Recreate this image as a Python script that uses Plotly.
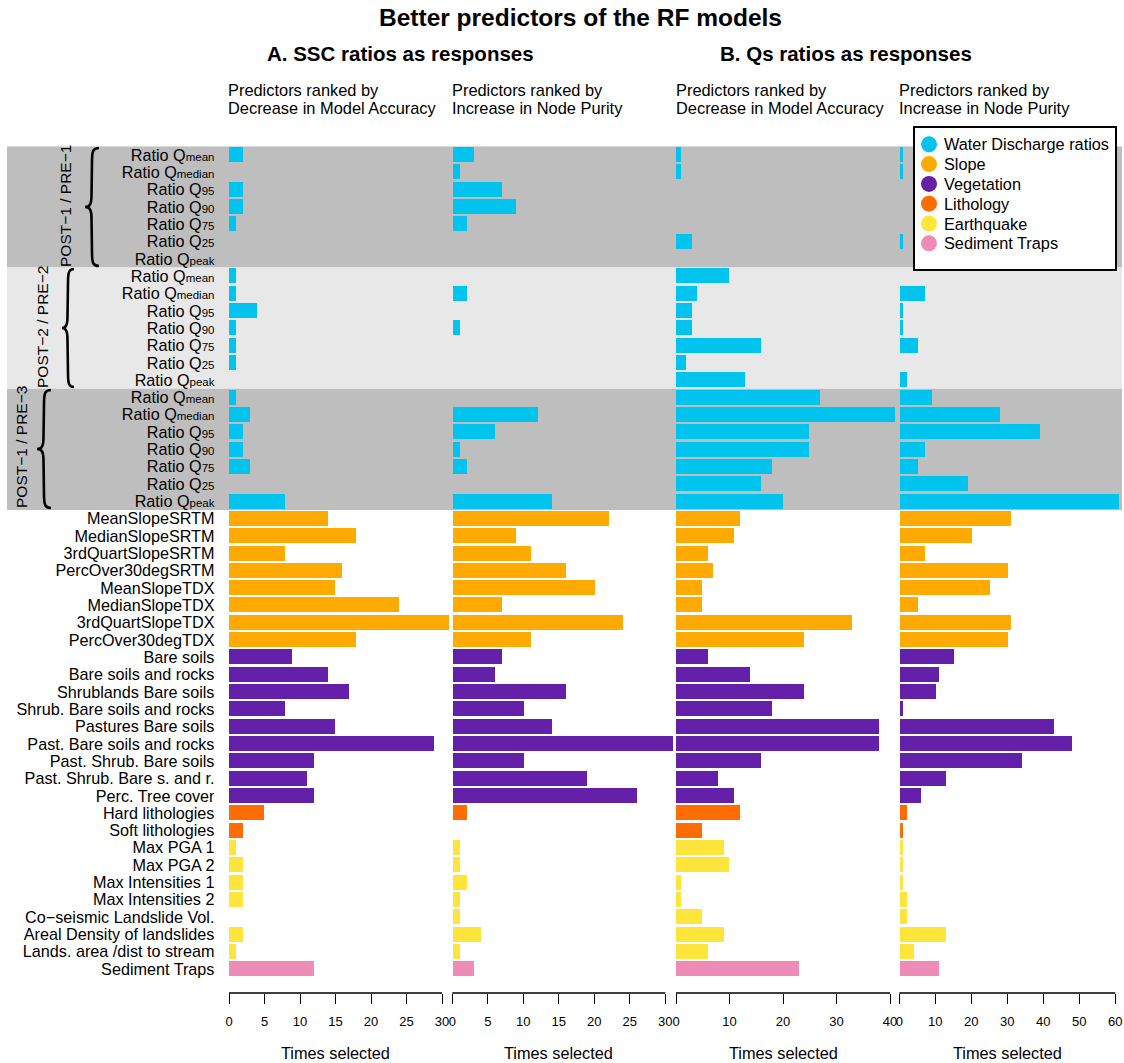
import plotly.graph_objects as go

W, H = 1124, 1063
FONT = "Liberation Sans, Arial, Helvetica, sans-serif"

# ---------------- data ----------------
SUB = "<span style='font-size:11.5px'>{}</span>"
water_labels = ["Ratio Q" + SUB.format("mean"), "Ratio Q" + SUB.format("median"),
                "Ratio Q" + SUB.format("95"), "Ratio Q" + SUB.format("90"),
                "Ratio Q" + SUB.format("75"), "Ratio Q" + SUB.format("25"),
                "Ratio Q" + SUB.format("peak")]
slope_labels = ["MeanSlopeSRTM", "MedianSlopeSRTM", "3rdQuartSlopeSRTM", "PercOver30degSRTM",
                "MeanSlopeTDX", "MedianSlopeTDX", "3rdQuartSlopeTDX", "PercOver30degTDX"]
veg_labels = ["Bare soils", "Bare soils and rocks", "Shrublands Bare soils",
              "Shrub. Bare soils and rocks", "Pastures Bare soils", "Past. Bare soils and rocks",
              "Past. Shrub. Bare soils", "Past. Shrub. Bare s. and r.", "Perc. Tree cover"]
litho_labels = ["Hard lithologies", "Soft lithologies"]
eq_labels = ["Max PGA 1", "Max PGA 2", "Max Intensities 1", "Max Intensities 2",
             "Co\u2212seismic Landslide Vol.", "Areal Density of landslides",
             "Lands. area /dist to stream"]
sed_labels = ["Sediment Traps"]

group_names = ["Water Discharge ratios", "Slope", "Vegetation", "Lithology", "Earthquake",
               "Sediment Traps"]
group_colors = ["#00C4EE", "#FFAA00", "#6420A8", "#FF6D00", "#FDE53B", "#EE8BB7"]
period_names = ["POST\u22121 / PRE\u22121", "POST\u22122 / PRE\u22122", "POST\u22121 / PRE\u22123"]

# Panel 1: SSC ratios, Decrease in Model Accuracy
p1_water = [2, 0, 2, 2, 1, 0, 0,   1, 1, 4, 1, 1, 1, 0,   1, 3, 2, 2, 3, 0, 8]
p1_slope = [14, 18, 8, 16, 15, 24, 31, 18]
p1_veg = [9, 14, 17, 8, 15, 29, 12, 11, 12]
p1_litho = [5, 2]
p1_eq = [1, 2, 2, 2, 0, 2, 1]
p1_sed = [12]

# Panel 2: SSC ratios, Increase in Node Purity
p2_water = [3, 1, 7, 9, 2, 0, 0,   0, 2, 0, 1, 0, 0, 0,   0, 12, 6, 1, 2, 0, 14]
p2_slope = [22, 9, 11, 16, 20, 7, 24, 11]
p2_veg = [7, 6, 16, 10, 14, 31, 10, 19, 26]
p2_litho = [2, 0]
p2_eq = [1, 1, 2, 1, 1, 4, 1]
p2_sed = [3]

# Panel 3: Qs ratios, Decrease in Model Accuracy
p3_water = [1, 1, 0, 0, 0, 3, 0,   10, 4, 3, 3, 16, 2, 13,   27, 41, 25, 25, 18, 16, 20]
p3_slope = [12, 11, 6, 7, 5, 5, 33, 24]
p3_veg = [6, 14, 24, 18, 38, 38, 16, 8, 11]
p3_litho = [12, 5]
p3_eq = [9, 10, 1, 1, 5, 9, 6]
p3_sed = [23]

# Panel 4: Qs ratios, Increase in Node Purity
p4_water = [1, 1, 0, 0, 0, 1, 0,   0, 7, 1, 1, 5, 0, 2,   9, 28, 39, 7, 5, 19, 61]
p4_slope = [31, 20, 7, 30, 25, 5, 31, 30]
p4_veg = [15, 11, 10, 1, 43, 48, 34, 13, 6]
p4_litho = [2, 1]
p4_eq = [1, 1, 1, 2, 2, 13, 4]
p4_sed = [11]

p1_ticks = [0, 5, 10, 15, 20, 25, 30]
p2_ticks = [0, 5, 10, 15, 20, 25, 30]
p3_ticks = [0, 10, 20, 30, 40]
p4_ticks = [0, 10, 20, 30, 40, 50, 60]

header_line1 = "Predictors ranked by"
header_line2 = ["Decrease in Model Accuracy", "Increase in Node Purity",
                "Decrease in Model Accuracy", "Increase in Node Purity"]

# ---------------- geometry helpers ----------------
def px(x):
    return x / W


def py(y):
    return 1 - y / H


ROW0, ROWSTEP = 155.0, 17.32
AX_Y = 993.0
y_top = ROW0 - 0.5 * ROWSTEP
y_range_bottom = (AX_Y - ROW0) / ROWSTEP

# zero pixel, pixels per unit, axis max
panel_geo = [(229.0, 7.1, 30), (452.3, 7.1, 30), (676.0, 5.35, 40), (899.3, 3.6, 60)]

panels = [
    [p1_water, p1_slope, p1_veg, p1_litho, p1_eq, p1_sed],
    [p2_water, p2_slope, p2_veg, p2_litho, p2_eq, p2_sed],
    [p3_water, p3_slope, p3_veg, p3_litho, p3_eq, p3_sed],
    [p4_water, p4_slope, p4_veg, p4_litho, p4_eq, p4_sed],
]
panel_ticks = [p1_ticks, p2_ticks, p3_ticks, p4_ticks]

row_labels = water_labels * 3 + slope_labels + veg_labels + litho_labels + eq_labels + sed_labels
n_rows = len(row_labels)

fig = go.Figure()

for pi, groups in enumerate(panels):
    xname = "x" if pi == 0 else f"x{pi + 1}"
    yname = "y" if pi == 0 else f"y{pi + 1}"
    start = 0
    for gi, vals in enumerate(groups):
        rows = list(range(start, start + len(vals)))
        start += len(vals)
        fig.add_trace(go.Bar(
            x=vals, y=rows, orientation="h", width=0.866,
            marker=dict(color=group_colors[gi], line=dict(width=0)),
            name=group_names[gi], showlegend=False,
            xaxis=xname, yaxis=yname,
        ))

layout = dict(
    width=W, height=H, margin=dict(l=0, r=0, t=0, b=0),
    paper_bgcolor="white", plot_bgcolor="rgba(0,0,0,0)",
    font=dict(family=FONT, color="black"),
    showlegend=False, bargap=0,
)

shapes = []
annotations = []

# background bands for the three ratio periods
band_colors = ["#BEBEBE", "#E8E8E8", "#BEBEBE"]
for k in range(3):
    shapes.append(dict(type="rect", xref="paper", yref="y", x0=px(7), x1=px(1122),
                       y0=7 * k - 0.5, y1=7 * k + 6.5, fillcolor=band_colors[k],
                       line=dict(width=0), layer="below"))

for pi in range(4):
    z, ppu, amax = panel_geo[pi]
    lo = -0.04 * amax
    hi = 1.04 * amax
    dom = [px(z + lo * ppu), min(1.0, px(z + hi * ppu))]
    xkey = "xaxis" if pi == 0 else f"xaxis{pi + 1}"
    ykey = "yaxis" if pi == 0 else f"yaxis{pi + 1}"
    yanchor = "y" if pi == 0 else f"y{pi + 1}"
    xanchor = "x" if pi == 0 else f"x{pi + 1}"
    layout[xkey] = dict(
        domain=dom, range=[lo, hi], anchor=yanchor,
        showgrid=False, zeroline=False, showline=False,
        ticks="outside", ticklen=10, tickwidth=1.3, tickcolor="black",
        tickvals=panel_ticks[pi], ticktext=[str(t) for t in panel_ticks[pi]],
        tickfont=dict(size=13, family=FONT, color="black"), ticklabelstandoff=6,
        fixedrange=True,
    )
    ydict = dict(
        domain=[py(AX_Y), py(y_top)], range=[y_range_bottom, -0.5], anchor=xanchor,
        showgrid=False, zeroline=False, showline=False, fixedrange=True,
    )
    if pi == 0:
        ydict.update(tickmode="array", tickvals=list(range(n_rows)), ticktext=row_labels,
                     ticks="", tickfont=dict(size=16.2, family=FONT, color="black"),
                     ticklabelstandoff=5)
    else:
        ydict.update(showticklabels=False, ticks="")
    layout[ykey] = ydict

    # axis line from 0 to max
    xref = "x" if pi == 0 else f"x{pi + 1}"
    shapes.append(dict(type="line", xref=xref, yref="paper", x0=0, x1=amax,
                       y0=py(AX_Y), y1=py(AX_Y), line=dict(color="black", width=1.3)))
    annotations.append(dict(xref=xref, yref="paper", x=amax / 2, y=py(1053),
                            text="Times selected", showarrow=False,
                            font=dict(size=16.3, family=FONT), xanchor="center", yanchor="middle"))
    # headers
    hx = [228, 452, 676, 899][pi]
    annotations.append(dict(xref="paper", yref="paper", x=px(hx - 2), y=py(90),
                            text=header_line1, showarrow=False, xanchor="left",
                            yanchor="middle", font=dict(size=16.4, family=FONT)))
    annotations.append(dict(xref="paper", yref="paper", x=px(hx - 2), y=py(108),
                            text=header_line2[pi], showarrow=False, xanchor="left",
                            yanchor="middle", font=dict(size=16.4, family=FONT)))

# titles
annotations.append(dict(xref="paper", yref="paper", x=px(580), y=py(18),
                        text="<b>Better predictors of the RF models</b>", showarrow=False,
                        xanchor="center", yanchor="middle", font=dict(size=24.5, family=FONT)))
annotations.append(dict(xref="paper", yref="paper", x=px(400), y=py(53),
                        text="<b>A. SSC ratios as responses</b>", showarrow=False,
                        xanchor="center", yanchor="middle", font=dict(size=20.5, family=FONT)))
annotations.append(dict(xref="paper", yref="paper", x=px(846), y=py(53),
                        text="<b>B. Qs ratios as responses</b>", showarrow=False,
                        xanchor="center", yanchor="middle", font=dict(size=20.5, family=FONT)))


# braces and period labels
def P(x, y):
    return f"{px(x):.5f},{py(y):.5f}"


def brace(xe, xt, yt, yb):
    xb = xt + 0.5 * (xe - xt)
    ym = (yt + yb) / 2
    return (f"M{P(xe, yt)} C{P(xb + 1, yt)} {P(xb, yt + 3)} {P(xb, yt + 14)} "
            f"L{P(xb - 0.5, ym - 12)} C{P(xb - 0.5, ym - 3)} {P(xb - 2, ym)} {P(xt, ym)} "
            f"C{P(xb - 2, ym)} {P(xb - 0.5, ym + 3)} {P(xb - 0.5, ym + 12)} "
            f"L{P(xb, yb - 14)} C{P(xb, yb - 3)} {P(xb + 1, yb)} {P(xe, yb)}")


brace_geo = [(99, 85, 148, 266), (74, 62, 269, 387), (51, 37, 390, 508)]
label_pos = [(66, 206), (42, 327), (21, 447)]
for k in range(3):
    xe, xt, yt, yb = brace_geo[k]
    shapes.append(dict(type="path", xref="paper", yref="paper", path=brace(xe, xt, yt, yb),
                       line=dict(color="black", width=2.6), layer="above"))
    lx, ly = label_pos[k]
    annotations.append(dict(xref="paper", yref="paper", x=px(lx), y=py(ly),
                            text=period_names[k], showarrow=False, textangle=-90,
                            xanchor="center", yanchor="middle", font=dict(size=15.5, family=FONT)))

# legend box (manual)
shapes.append(dict(type="rect", xref="paper", yref="paper", x0=px(914), x1=px(1116),
                   y0=py(270), y1=py(127), fillcolor="white",
                   line=dict(color="black", width=2), layer="above"))
for gi, name in enumerate(group_names):
    cy = 144.3 + 19.8 * gi
    shapes.append(dict(type="circle", xref="paper", yref="paper",
                       x0=px(929 - 8), x1=px(929 + 8), y0=py(cy + 8), y1=py(cy - 8),
                       fillcolor=group_colors[gi], line=dict(width=0), layer="above"))
    annotations.append(dict(xref="paper", yref="paper", x=px(942), y=py(cy),
                            text=name, showarrow=False, xanchor="left", yanchor="middle",
                            font=dict(size=16.3, family=FONT)))

layout["shapes"] = shapes
layout["annotations"] = annotations
fig.update_layout(**layout)

fig.write_html("out.html", config={"displayModeBar": False},
               post_script="document.body.style.margin='0px';")
